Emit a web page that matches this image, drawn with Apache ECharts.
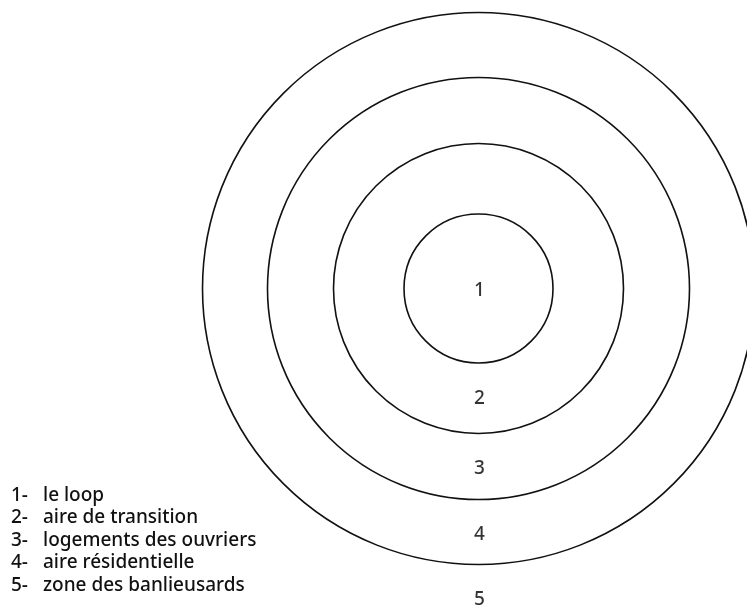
<!DOCTYPE html>
<html>
<head>
<meta charset="utf-8">
<script src="https://cdn.jsdelivr.net/npm/echarts@6/dist/echarts.min.js"></script>
<style>
html,body{margin:0;padding:0;background:#fff;}
#chart{width:747px;height:607px;}
</style>
</head>
<body>
<div id="chart"></div>
<script>
// Ring outer radii (in drawing units, equal x/y scale)
const ringRadii = [74.5, 145, 211, 276];
// Zone numbers and their label distance below the centre
const zoneNames = ['1', '2', '3', '4', '5'];
const zoneLabelOffsets = [2.5, 110.5, 180, 246.5, 311];
// Legend lines
const legendNumbers = ['1-', '2-', '3-', '4-', '5-'];
const legendTexts = ['le loop', 'aire de transition', 'logements des ouvriers', 'aire résidentielle', 'zone des banlieusards'];

const FONT = '"Noto Sans", "Open Sans", sans-serif';

const chart = echarts.init(document.getElementById('chart'), null, {renderer: 'canvas'});

const legendGraphics = [];
legendNumbers.forEach((n, i) => {
  const y = 495.5 + i * 22.5;
  legendGraphics.push({
    type: 'text', x: 11, y: y,
    style: {text: n, font: '500 19px ' + FONT, fill: '#111111', verticalAlign: 'middle'}
  });
  legendGraphics.push({
    type: 'text', x: 43, y: y,
    style: {text: legendTexts[i], font: '500 19px ' + FONT, fill: '#111111', verticalAlign: 'middle'}
  });
});

chart.setOption({
  animation: false,
  backgroundColor: '#ffffff',
  grid: {left: 0, right: 0, top: 0, bottom: 0},
  xAxis: {type: 'value', min: -478.5, max: 268.5, show: false},
  yAxis: {type: 'value', min: -318.5, max: 288.5, show: false},
  graphic: legendGraphics,
  series: [
    {
      type: 'custom',
      data: ringRadii.map(r => [0, 0, r]),
      renderItem: function (params, api) {
        const c = api.coord([api.value(0), api.value(1)]);
        const s = api.size([api.value(2), api.value(2)]);
        return {
          type: 'circle',
          shape: {cx: c[0], cy: c[1], r: s[0]},
          style: {fill: 'none', stroke: '#111111', lineWidth: 1.6}
        };
      },
      silent: true
    },
    {
      type: 'scatter',
      symbolSize: 0,
      data: zoneNames.map((n, i) => ({name: n, value: [1, -zoneLabelOffsets[i]]})),
      label: {
        show: true, position: 'inside', formatter: '{b}',
        fontFamily: FONT, fontSize: 19, fontWeight: 500, color: '#000000'
      },
      silent: true
    }
  ]
});
</script>
</body>
</html>
